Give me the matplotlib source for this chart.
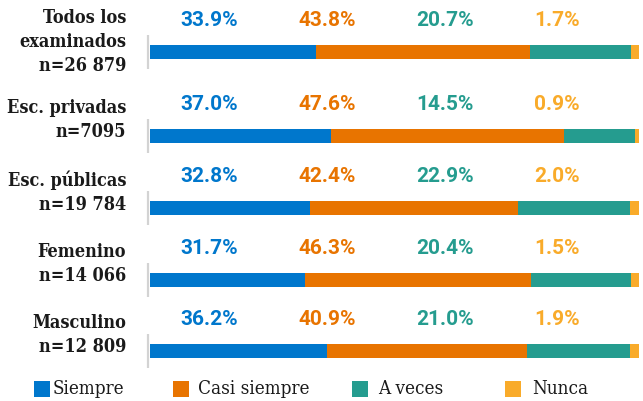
import matplotlib
matplotlib.use('Agg')
import matplotlib.pyplot as plt
import numpy as np

# datos
grupos = ['Todos los\nexaminados\nn=26 879', 'Esc. privadas\nn=7095', 'Esc. públicas\nn=19 784',
          'Femenino\nn=14 066', 'Masculino\nn=12 809']
categorias = ['Siempre', 'Casi siempre', 'A veces', 'Nunca']
siempre = [33.9, 37.0, 32.8, 31.7, 36.2]
casi_siempre = [43.8, 47.6, 42.4, 46.3, 40.9]
a_veces = [20.7, 14.5, 22.9, 20.4, 21.0]
nunca = [1.7, 0.9, 2.0, 1.5, 1.9]

colores = ['#0077CC', '#E87400', '#259C8F', '#F9AB2A']

W, H = 643, 402
fig = plt.figure(figsize=(W/100, H/100), dpi=100)
x0, x1 = 150, 639
ax = fig.add_axes([x0/W, 0, (x1-x0)/W, 1])
ax.set_xlim(0, 100)
ax.set_ylim(H, 0)   # y en pixeles, de arriba abajo
ax.axis('off')

px = (x1 - x0) / 100.0   # pixeles por punto porcentual

filas = [53, 137, 209, 281, 352]          # centro de cada barra
desp_etiqueta = [-11, -17, -17, -17, -17]  # centro del texto del grupo respecto a la barra
col_pct = [180, 298, 416, 534]            # columnas de los porcentajes

series = [siempre, casi_siempre, a_veces, nunca]
izq = np.zeros(len(grupos))
for serie, color in zip(series, colores):
  ax.barh(filas, serie, left=izq, height=14, color=color, edgecolor='none')
  izq = izq + np.array(serie)

for i, y in enumerate(filas):
  ax.plot([-2/px, -2/px], [y-17, y+17], color='#d3d3d3', lw=1.6, clip_on=False,
          solid_capstyle='butt')
  ax.text(-24/px, y + desp_etiqueta[i], grupos[i], ha='right', va='center', ma='right',
          fontsize=13, fontweight='bold', family='DejaVu Serif', stretch='condensed',
          color='#1a1a1a', linespacing=1.46, clip_on=False)
  for j, serie in enumerate(series):
    ax.text((col_pct[j]-x0)/px, y-32, '%.1f%%' % serie[i], ha='left', va='center',
            fontsize=15, fontweight='bold', family='Roboto', color=colores[j], clip_on=False)

# leyenda
ley_x = [35, 174, 353, 506]
ley_txt = [53, 198, 378, 532]
for j in range(4):
  ax.scatter([(ley_x[j]+7-x0)/px], [389.5], marker='s', s=130, color=colores[j],
             linewidths=0, clip_on=False)
  ax.text((ley_txt[j]-x0)/px, 389.5, categorias[j], ha='left', va='center',
          fontsize=13.5, family='DejaVu Serif', stretch='condensed', color='#1a1a1a',
          clip_on=False)

plt.savefig('out.png', dpi=100)
